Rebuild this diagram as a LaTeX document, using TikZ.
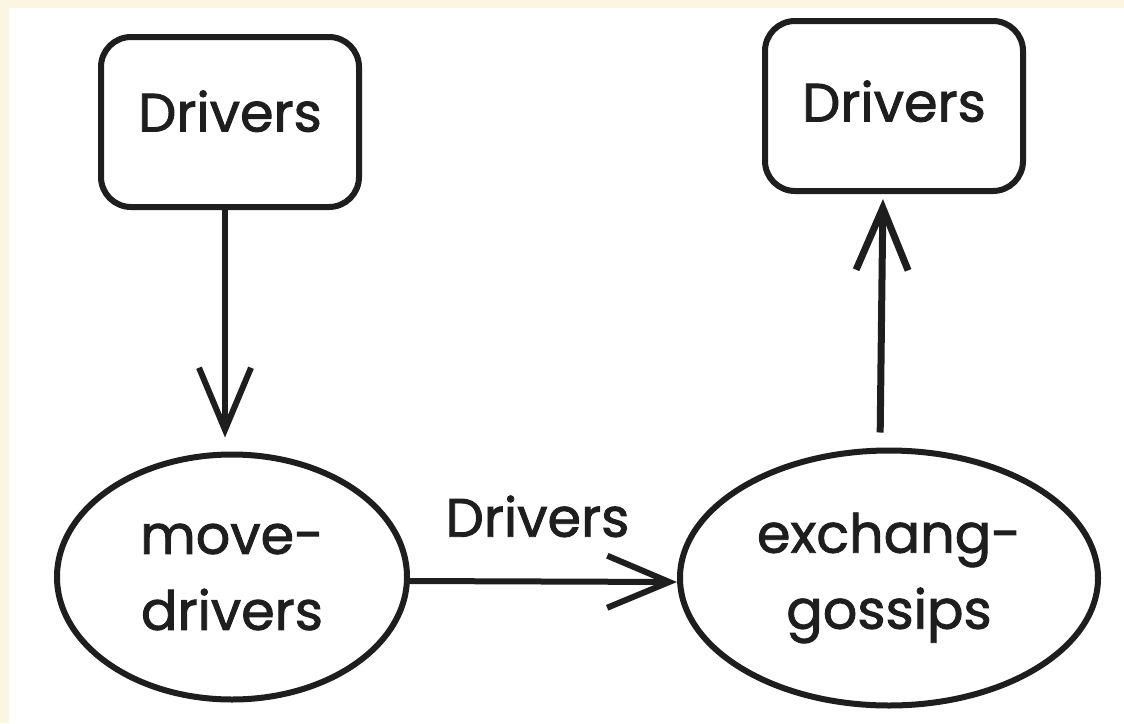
\documentclass[tikz,border=0pt]{standalone}
\usepackage{fontspec}
\setmainfont{Poppins}[FakeBold=1.6]
\usepackage{xcolor}
\usepackage{tikz}
\usetikzlibrary{shapes.geometric, arrows.meta}
\usetikzlibrary{calc,positioning}

\definecolor{cream}{RGB}{251,245,225}
\definecolor{ink}{RGB}{30,30,30}

\tikzset{
    box/.style={draw=ink, line width=6pt, rounded corners=30pt, minimum width=258pt, minimum height=170pt, text depth=22pt},
    blob/.style={draw=ink, ellipse, line width=6pt, inner sep=0pt},
    txt/.style={font=\fontsize{54}{76}\selectfont, align=center, text=ink},
    flow/.style={draw=ink, line width=6pt, -{Straight Barb[length=62pt,width=52pt]}},
}

\begin{document}
\begin{tikzpicture}[x=1pt,y=-1pt]

    % Achtergrond met rand
    \fill[cream] (0,0) rectangle (1124,723);
    \fill[white] (9,8) rectangle (1124,723);
    \useasboundingbox (0,0) rectangle (1124,723);

    % Boxen
    \node[box, txt] (drvin) at (230,122) {Drivers};
    \node[box, txt, text depth=10pt] (drvout) at (894,106) {Drivers};

    % Processen
    \node[blob, txt, minimum width=350pt, minimum height=245pt] (move) at (232,577) {move-\\drivers};
    \node[blob, txt, minimum width=418pt, minimum height=255pt] (exch) at (889,578) {exchang-\\gossips};

    % Pijlen
    \draw[flow, shorten >=14pt] ([xshift=-5pt]drvin.south) -- ([xshift=-5pt]drvin.south |- move.north);
    \draw[flow] ([yshift=-4pt]move.east) -- node[txt, above=38pt, xshift=-6pt] (lbl) {Drivers} ([yshift=-4pt]exch.west);
    \draw[flow, line width=7pt, shorten <=15pt, shorten >=5pt] ([xshift=-9pt]exch.north) -- ([xshift=-11pt]drvout.south);

\end{tikzpicture}
\end{document}
